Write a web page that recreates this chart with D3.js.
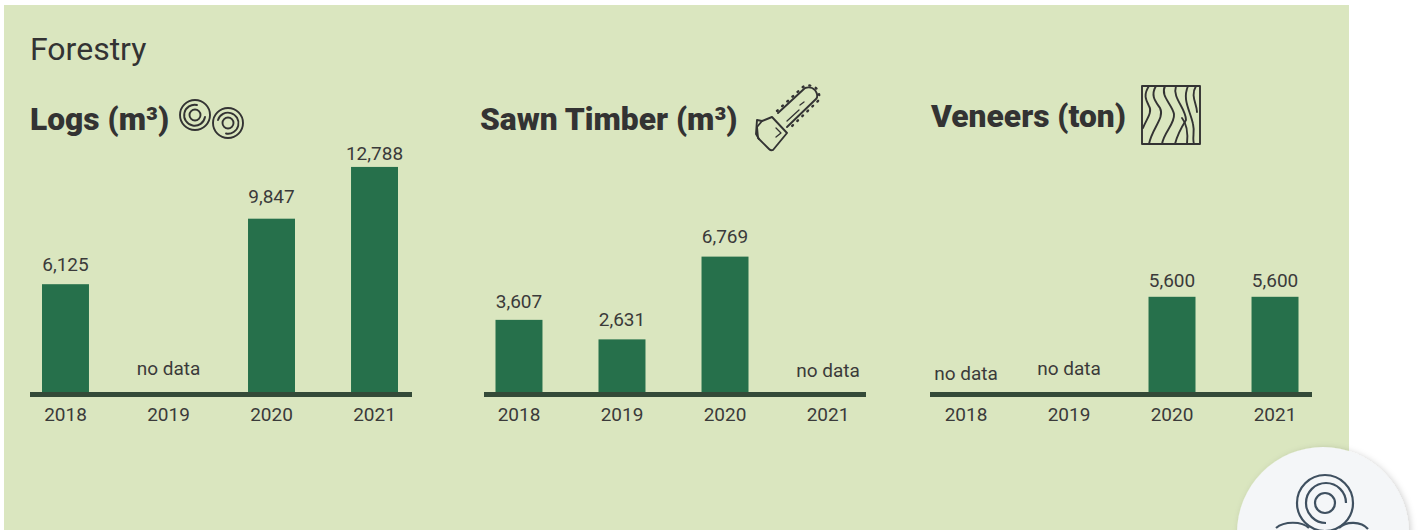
<!DOCTYPE html>
<html lang="en">
<head>
  <meta charset="UTF-8">
  <title>Forestry</title>
  <script src="https://d3js.org/d3.v7.min.js"></script>
  <style>
    html, body { margin: 0; background: #fff; overflow: hidden; }
    text { font-family: Roboto, sans-serif; fill: #3a3a3a; }
    .value, .tick text { font-size: 19px; }
    .heading { font-size: 31.75px; font-weight: 900; fill: #333; }
    .icon { fill: none; stroke: #333; stroke-width: 1.9; stroke-linecap: round; stroke-linejoin: round; }
  </style>
</head>
<body>
  <div id="root"></div>
  <script>
    const years = ['2018', '2019', '2020', '2021']
    const logsValues = [6125, null, 9847, 12788]
    const sawnValues = [3607, 2631, 6769, null]
    const veneerValues = [null, null, 5600, 5600]

    const width = 1421
    const height = 530
    const baseline = 392

    const svg = d3.select('#root')
      .append('svg')
        .attr('width', width)
        .attr('height', height)
        .style('display', 'block')

    const defs = svg.append('defs')
    defs.append('filter').attr('id', 'soft').attr('x', '-20%').attr('y', '-20%').attr('width', '140%').attr('height', '140%')
      .append('feDropShadow')
        .attr('dx', 2).attr('dy', 1).attr('stdDeviation', 3)
        .attr('flood-color', '#000').attr('flood-opacity', 0.18)

    svg.append('rect')
      .attr('x', 4).attr('y', 5)
      .attr('width', 1345).attr('height', 525)
      .attr('fill', '#dae6bf')

    svg.append('text')
      .attr('x', 30).attr('y', 60)
      .attr('font-size', 32)
      .attr('font-weight', 400)
      .style('fill', '#333')
      .text('Forestry')

    function drawPanel({ title, titleX, titleY, values, lineX, bandX, perUnit, labelGaps, noDataY }) {
      const xScale = d3.scaleBand()
        .domain(years)
        .range([bandX, bandX + 380])
        .paddingInner(0.544)
        .paddingOuter(0.1165)

      const maxValue = d3.max(values)
      const yScale = d3.scaleLinear()
        .domain([0, maxValue])
        .range([baseline, baseline - maxValue * perUnit])

      const rows = years.map((year, i) => ({ year, value: values[i], gap: labelGaps[i], noDataY: noDataY[i] }))

      svg.append('text')
        .attr('class', 'heading')
        .attr('x', titleX).attr('y', titleY)
        .text(title)

      svg.append('g').selectAll('rect')
        .data(rows.filter(d => d.value !== null))
        .join('rect')
        .attr('x', d => xScale(d.year))
        .attr('y', d => yScale(d.value))
        .attr('width', xScale.bandwidth())
        .attr('height', d => baseline - yScale(d.value))
        .attr('fill', '#26704b')

      svg.append('g').selectAll('text')
        .data(rows)
        .join('text')
        .attr('class', 'value')
        .attr('text-anchor', 'middle')
        .attr('x', d => xScale(d.year) + xScale.bandwidth() / 2)
        .attr('y', d => d.value === null ? d.noDataY : yScale(d.value) - d.gap)
        .text(d => d.value === null ? 'no data' : d3.format(',')(d.value))

      const axis = svg.append('g')
        .attr('transform', `translate(0, ${baseline + 2.5})`)
        .call(d3.axisBottom(xScale).tickSize(0).tickPadding(13))
      axis.select('.domain').remove()
      axis.selectAll('.tick text')
        .attr('font-family', null)
        .attr('fill', null)

      // the line runs a little past the bands
      svg.append('line')
        .attr('x1', lineX).attr('x2', lineX + 382)
        .attr('y1', baseline + 2.5).attr('y2', baseline + 2.5)
        .attr('stroke', '#344a38')
        .attr('stroke-width', 5)
    }

    drawPanel({ title: 'Logs (m³)', titleX: 30, titleY: 130, values: logsValues, lineX: 30, bandX: 30, perUnit: 0.0176, labelGaps: [13, 0, 16, 7], noDataY: [0, 375, 0, 0] })
    drawPanel({ title: 'Sawn Timber (m³)', titleX: 480, titleY: 130, values: sawnValues, lineX: 484, bandX: 483.5, perUnit: 0.02, labelGaps: [12, 13, 14, 0], noDataY: [0, 0, 0, 377] })
    drawPanel({ title: 'Veneers (ton)', titleX: 931, titleY: 127, values: veneerValues, lineX: 930, bandX: 930.5, perUnit: 0.017, labelGaps: [0, 0, 10, 10], noDataY: [380, 375, 0, 0] })

    // logs icon
    const logsIcon = svg.append('g').attr('class', 'icon')
    logsIcon.append('circle').attr('cx', 195).attr('cy', 115).attr('r', 15)
    logsIcon.append('path').attr('d', 'M205 117A10.5 10.5 0 1 1 197 105')
    logsIcon.append('circle').attr('cx', 195).attr('cy', 115).attr('r', 5.5)
    logsIcon.append('circle').attr('cx', 228).attr('cy', 123).attr('r', 15)
    logsIcon.append('path').attr('d', 'M218 120A10.5 10.5 0 1 1 226 133.5')
    logsIcon.append('circle').attr('cx', 228).attr('cy', 123).attr('r', 5.5)

    // chainsaw icon
    const sawIcon = svg.append('g').attr('class', 'icon')
    sawIcon.append('path').attr('d', 'M772 117L787 133L773 150Q771 151 769 149L758 138L757 127L762 121Z')
    sawIcon.append('path').attr('d', 'M762 121L757 120L756 134L759 139')
    sawIcon.append('path').attr('d', 'M778 113L805 88Q811 86 815 90Q819 96 816 99L787 127')
    sawIcon.append('path').attr('d', 'M777 111L804 86Q812 84 817 89Q821 96 818 101L789 129')
      .attr('stroke-dasharray', '1 6').attr('stroke-width', 2.4)
    sawIcon.append('path').attr('d', 'M787 121L799 110M800 105L804 102').attr('stroke-width', 1.3)
    sawIcon.append('path').attr('d', 'M776 128L781 133L776 137').attr('stroke-width', 1.3)

    // wood grain icon
    const grainIcon = svg.append('g').attr('class', 'icon')
    grainIcon.append('rect').attr('x', 1142).attr('y', 86).attr('width', 58).attr('height', 58)
    grainIcon.selectAll('path')
      .data([
        'M1149 86C1143 95 1146 100 1149 106C1153 112 1146 120 1143 128',
        'M1156 86C1150 96 1156 102 1160 108C1165 118 1152 128 1149 144',
        'M1165 86C1160 96 1172 104 1174 114C1175 124 1164 132 1162 144',
        'M1176 86C1172 98 1186 108 1186 120C1181 128 1177 136 1175 144',
        'M1188 86C1182 100 1190 110 1193 124C1195 132 1192 138 1194 144',
        'M1196 86C1190 96 1197 104 1197 112',
        'M1182 118C1187 124 1188 134 1187 144'
      ])
      .join('path')
      .attr('d', d => d)

    // round badge, cut by the window
    svg.append('circle')
      .attr('cx', 1323).attr('cy', 533).attr('r', 86)
      .attr('fill', '#f4f6f8')
      .attr('filter', 'url(#soft)')
    const badge = svg.append('g').attr('fill', 'none').attr('stroke', '#3f5060').attr('stroke-width', 2.2)
    badge.append('circle').attr('cx', 1325).attr('cy', 503).attr('r', 28)
    badge.append('path').attr('d', 'M1346 503A20 20 0 1 0 1326 523')
    badge.append('circle').attr('cx', 1325).attr('cy', 503).attr('r', 10)
    badge.append('path').attr('d', 'M1276 528C1284 521 1302 521 1309 528')
    badge.append('path').attr('d', 'M1339 528C1346 521 1361 521 1368 529')
  </script>
</body>
</html>
